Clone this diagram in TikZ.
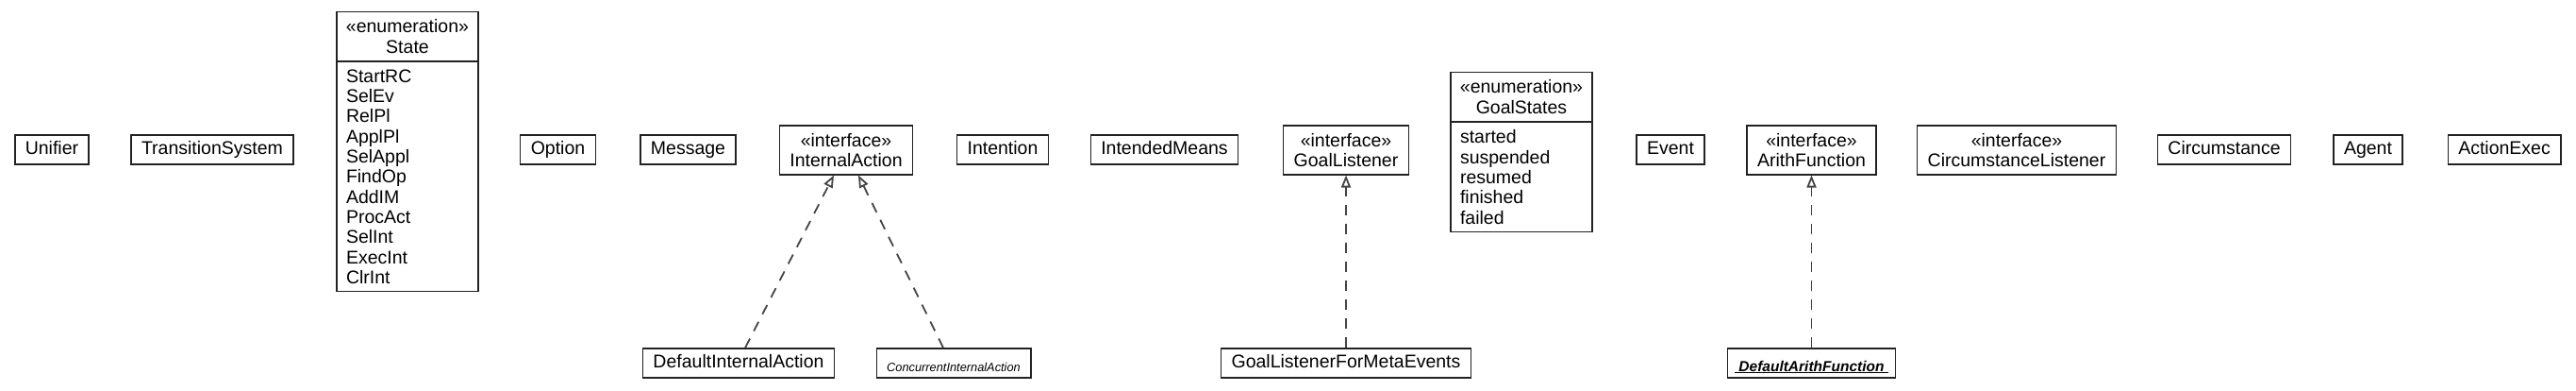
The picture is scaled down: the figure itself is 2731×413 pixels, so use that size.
\documentclass[tikz,border=0pt]{standalone}
\usepackage{fontspec}
\setmainfont{Liberation Sans}
\usepackage{xcolor}
\definecolor{umlline}{HTML}{222222}
\definecolor{umldash}{HTML}{444444}
\usetikzlibrary{arrows.meta,positioning}

\begin{document}
\begin{tikzpicture}[x=1pt,y=-1pt,>=Latex]
\tikzset{
 cls/.style={draw=umlline,line width=1.4pt,inner xsep=11pt,inner ysep=6.5pt,text height=14pt,text depth=4pt,font=\fontsize{19.5}{21.3}\selectfont},
 iface/.style={draw=umlline,line width=1.4pt,inner xsep=11pt,inner ysep=8pt,align=center,font=\fontsize{19.5}{21.3}\selectfont},
 enumhead/.style={iface,inner xsep=10pt,minimum width=150pt,anchor=north},
 enumlist/.style={draw=umlline,line width=1.4pt,inner xsep=10pt,inner ysep=8pt,text width=130pt,align=left,font=\fontsize{19.5}{21.3}\selectfont},
 realize/.style={-{Triangle[open,length=13pt,width=10pt,fill=white]},dash pattern=on 11pt off 9pt,line width=1.8pt,draw=umldash}
}
\useasboundingbox (0,0) rectangle (2731,413);
% top row
\node[cls] (unifier) at (55,158.5) {Unifier};
\node[cls] (transys) at (225,158.5) {TransitionSystem};
\node[enumhead] (state) at (432,12) {«enumeration»\\State};
\node[enumlist,below=0pt of state] (statelist) {StartRC\\SelEv\\RelPl\\ApplPl\\SelAppl\\FindOp\\AddIM\\ProcAct\\SelInt\\ExecInt\\ClrInt};
\node[cls] (option) at (591.5,158.5) {Option};
\node[cls] (message) at (729.5,158.5) {Message};
\node[iface] (intaction) at (897,159) {«interface»\\InternalAction};
\node[cls] (intention) at (1063,158.5) {Intention};
\node[cls] (intmeans) at (1234.5,158.5) {IntendedMeans};
\node[iface] (goallist) at (1427,159) {«interface»\\GoalListener};
\node[enumhead] (goalstates) at (1613,76) {«enumeration»\\GoalStates};
\node[enumlist,below=0pt of goalstates] (goalstatelist) {started\\suspended\\resumed\\finished\\failed};
\node[cls] (event) at (1771,158.5) {Event};
\node[iface] (arith) at (1920.5,159) {«interface»\\ArithFunction};
\node[iface] (circlist) at (2138,159) {«interface»\\CircumstanceListener};
\node[cls] (circ) at (2358,158.5) {Circumstance};
\node[cls] (agent) at (2510.5,158.5) {Agent};
\node[cls] (actexec) at (2655,158.5) {ActionExec};
% implementations
\node[cls] (defintaction) at (783,384.5) {DefaultInternalAction};
\node[cls,text height=17.5pt,text depth=0.5pt,font=\fontsize{12.8}{14}\selectfont\itshape] (concintaction) at (1011,384.5) {ConcurrentInternalAction};
\node[cls] (goalmeta) at (1427,384.5) {GoalListenerForMetaEvents};
\node[cls,inner xsep=7.5pt,text height=17.5pt,text depth=0.5pt,font=\fontsize{15.5}{17}\selectfont\bfseries\itshape] (defarith) at (1920.5,384.5) {\underline{\ DefaultArithFunction\ }};
\draw[realize] ([xshift=7pt]defintaction.north) -- ([xshift=-13pt]intaction.south);
\draw[realize] ([xshift=-11pt]concintaction.north) -- ([xshift=13pt]intaction.south);
\draw[realize] (goalmeta) -- (goallist);
\draw[realize] (defarith) -- (arith);
\end{tikzpicture}
\end{document}
